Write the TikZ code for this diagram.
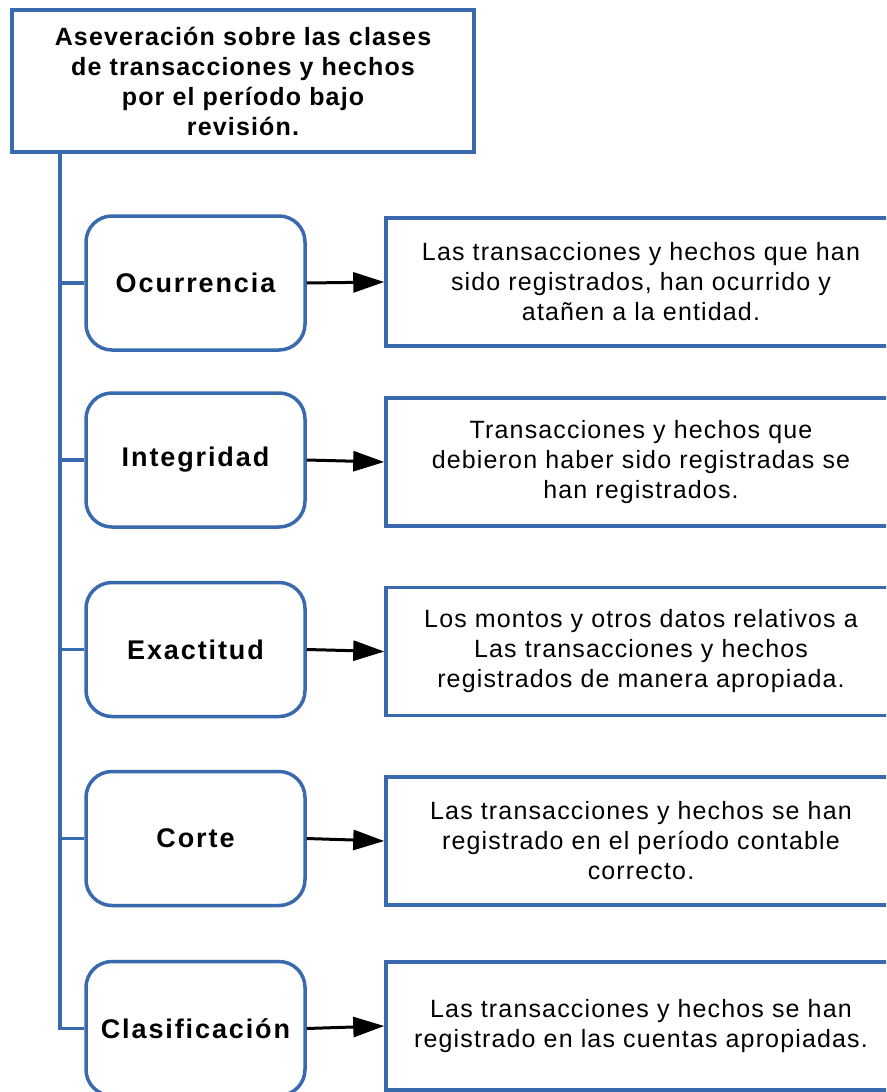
\documentclass[tikz,border=0pt]{standalone}
\usepackage{fontspec}
\setmainfont{Liberation Sans}
\usetikzlibrary{arrows.meta}
\definecolor{bord}{RGB}{58,106,174}
\tikzset{
  topbox/.style={draw=bord, line width=4pt, rectangle, minimum width=462pt, minimum height=142pt, inner sep=0pt, align=center, font=\fontsize{25}{30}\selectfont\bfseries\addfontfeature{LetterSpace=4.6}},
  catbox/.style={draw=bord, line width=3.5pt, rectangle, rounded corners=26pt, minimum width=219pt, minimum height=134pt, inner sep=0pt, align=center, font=\fontsize{27}{30}\selectfont\bfseries\addfontfeature{LetterSpace=7}},
  descbox/.style={draw=bord, line width=3.5pt, rectangle, minimum width=510pt, minimum height=128pt, inner sep=0pt, align=center, font=\fontsize{25}{30}\selectfont\addfontfeature{LetterSpace=4.6}},
  spine/.style={draw=bord, line width=3.5pt},
  arr/.style={draw=black, line width=3pt, -{Triangle[length=31pt,width=20pt]}}
}
\begin{document}
\begin{tikzpicture}[x=1pt,y=-1pt]
\useasboundingbox (0,0) rectangle (886,1092);
\fill[white] (0,0) rectangle (886,1092);
\clip (0,0) rectangle (886,1092);

\node[topbox] (top) at (243,81) {Aseveración sobre las clases\\de transacciones y hechos\\por el período bajo\\revisión.};

\node[catbox] (c1) at (195.5,283) {Ocurrencia};
\node[catbox] (c2) at (195.5,460) {Integridad};
\node[catbox] (c3) at (195.5,649.5) {Exactitud};
\node[catbox] (c4) at (195.5,838.5) {Corte};
\node[catbox] (c5) at (195.5,1028.5) {Clasificación};

\node[descbox] (d1) at (641,282) {Las transacciones y hechos que han\\sido registrados, han ocurrido y\\atañen a la entidad.};
\node[descbox] (d2) at (641,462) {Transacciones y hechos que\\debieron haber sido registradas se\\han registrados.};
\node[descbox] (d3) at (641,651.5) {Los montos y otros datos relativos a\\Las transacciones y hechos\\registrados de manera apropiada.};
\node[descbox] (d4) at (641,841) {Las transacciones y hechos se han\\registrado en el período contable\\correcto.};
\node[descbox] (d5) at (641,1026) {Las transacciones y hechos se han\\registrado en las cuentas apropiadas.};

\coordinate (sp) at ([xshift=50pt]top.south west);
\draw[spine] (sp) |- (c5.west);
\foreach \i in {1,2,3,4} {
  \draw[spine] (sp |- c\i.west) -- (c\i.west);
}
\foreach \i in {1,2,3,4,5} {
  \draw[arr] (c\i.east) -- (d\i.west);
}
\end{tikzpicture}
\end{document}
